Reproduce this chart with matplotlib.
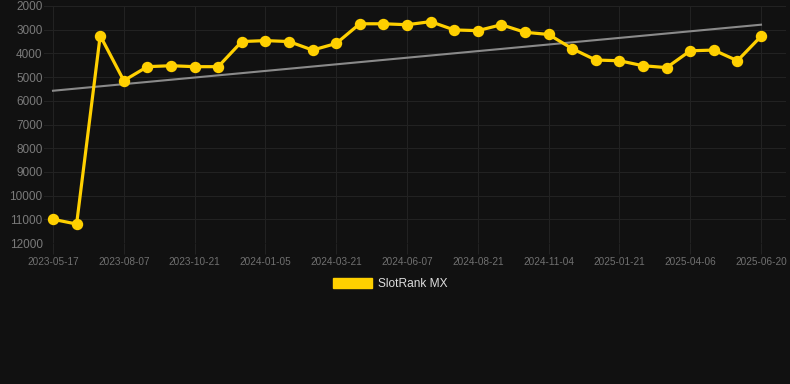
#!/usr/bin/env python

import numpy as np
import matplotlib
matplotlib.use('Agg')
import matplotlib.pyplot as plt
from matplotlib.patches import Patch

# rank values (lower number = better rank, axis is inverted)
ranks = [11000, 11200, 3250, 5150, 4560, 4520, 4560, 4560, 3500, 3460,
         3500, 3860, 3580, 2750, 2750, 2790, 2660, 3010, 3040, 2790,
         3110, 3200, 3800, 4280, 4310, 4520, 4600, 3890, 3860, 4310, 3280]
tick_labels = ['2023-05-17', '2023-08-07', '2023-10-21', '2024-01-05', '2024-03-21',
               '2024-06-07', '2024-08-21', '2024-11-04', '2025-01-21', '2025-04-06',
               '2025-06-20']
y_ticks = [2000, 3000, 4000, 5000, 6000, 7000, 8000, 9000, 10000, 11000, 12000]
series_name = 'SlotRank MX'

bg = '#111111'
gold = '#FFD000'

x = np.arange(len(ranks))
slope, intercept = np.polyfit(x, ranks, 1) #Linear trend over the whole series
trend = slope * x + intercept

fig = plt.figure(figsize=(7.9, 3.84), dpi=100, facecolor=bg)
ax = fig.add_axes([44/790, 1 - 243/384, (786 - 44)/790, (243 - 6)/384], facecolor=bg)

ax.plot(x, trend, color='#8a8a8a', lw=1.5, zorder=2)
ax.plot(x, ranks, color=gold, lw=2.3, marker='o', ms=7.2, zorder=3)

ax.set_ylim(12000, 2000)
ax.set_xlim(-9/23.6, 30 + 25/23.6)
ax.set_yticks(y_ticks)
ax.set_xticks(x[::3])
ax.set_xticklabels(tick_labels)

ax.grid(True, color='#222222', lw=0.8)
ax.set_axisbelow(True)
for s in ax.spines.values():
    s.set_visible(False)
ax.tick_params(axis='x', colors='#222222', labelcolor='#707070', labelsize=7.2, length=8, pad=2)
ax.tick_params(axis='y', length=0, labelcolor='#7a7a7a', labelsize=8.5, pad=1)
for lbl in ax.get_xticklabels() + ax.get_yticklabels():
    lbl.set_family('Liberation Sans')

# legend below the plot, a filled box like the original
handle = Patch(facecolor=gold, edgecolor=gold)
leg = fig.legend([handle], [series_name], loc='center', bbox_to_anchor=(390/790, 1 - 284/384),
                 frameon=False, handlelength=3.3, handleheight=1.0, handletextpad=0.5,
                 prop={'family': 'Liberation Sans', 'size': 8.6})
for t in leg.get_texts():
    t.set_color('#dddddd')

fig.savefig('out.png', dpi=100, facecolor=bg)
